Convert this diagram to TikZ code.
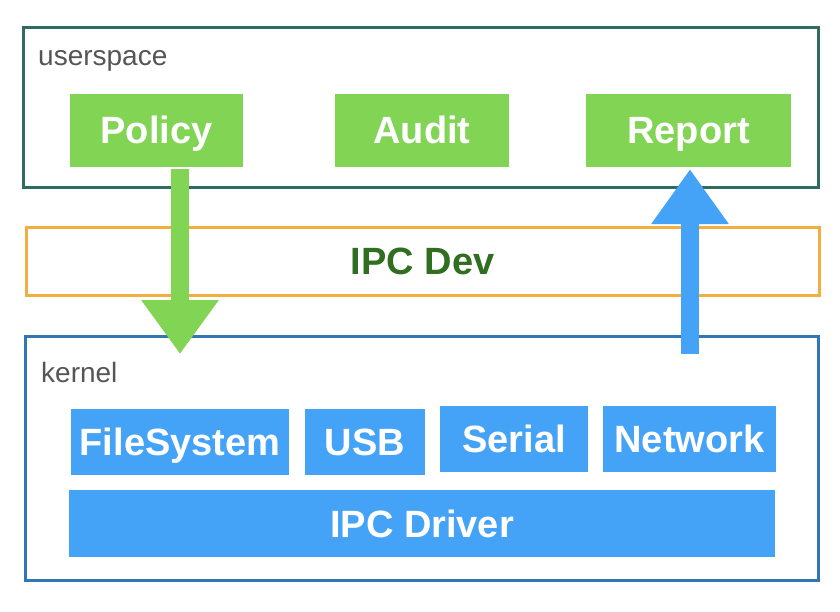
\documentclass[tikz,border=0pt]{standalone}
\usepackage{fontspec}
\setmainfont{Liberation Sans}
\usepackage{tikz}
\usetikzlibrary{arrows.meta, positioning}
\definecolor{userframe}{RGB}{48,107,96}
\definecolor{devframe}{RGB}{242,174,62}
\definecolor{kernframe}{RGB}{49,119,181}
\definecolor{userfill}{RGB}{130,212,85}
\definecolor{kernfill}{RGB}{69,163,247}
\definecolor{devtext}{RGB}{48,110,34}
\definecolor{labeltext}{RGB}{85,85,85}
\newcommand{\boxfont}{\fontsize{38}{40}\selectfont\bfseries}
\newcommand{\areafont}{\fontsize{28}{30}\selectfont}

\begin{document}
\begin{tikzpicture}[
  x=1pt, y=-1pt,
  frame/.style={rectangle, line width=3pt, inner sep=0pt},
  userbox/.style={rectangle, fill=userfill, text=white, font=\boxfont, inner sep=0pt, text height=27pt, text depth=0pt, minimum height=73pt},
  kernbox/.style={rectangle, fill=kernfill, text=white, font=\boxfont, inner sep=0pt, text height=27pt, text depth=0pt, minimum height=66pt},
  area/.style={anchor=base west, inner sep=0pt, text=labeltext, font=\areafont},
  bigarrow/.style={line width=18pt}
]
\useasboundingbox (0,0) rectangle (840,612);

% --- Rahmen ---
\node[frame, draw=userframe, minimum width=795pt, minimum height=160pt] (userspace) at (421,107.5) {};
\node[frame, draw=devframe, minimum width=793pt, minimum height=68pt, text=devtext, font=\boxfont, text height=27pt, text depth=0pt] (ipcdev) at (422.5,261.5) {IPC Dev};
\node[frame, draw=kernframe, minimum width=793pt, minimum height=244pt] (kernel) at (422,458.5) {};

\node[area] (userlabel) at (38,66) {userspace};
\node[area] (kernlabel) at (41,382) {kernel};

% --- userspace ---
\node[userbox, minimum width=173pt] (policy) at (156.5,130.5) {Policy};
\node[userbox, minimum width=174pt] (audit)  at (422,130.5)   {Audit};
\node[userbox, minimum width=205pt] (report) at (688.5,130.5) {Report};

% --- kernel ---
\node[kernbox, minimum width=218pt] (filesystem) at (180,442)   {FileSystem};
\node[kernbox, minimum width=120pt] (usb)        at (365,442)   {USB};
\node[kernbox, minimum width=148pt] (serial)     at (514,439)   {Serial};
\node[kernbox, minimum width=173pt] (network)    at (689.5,439) {Network};
\node[kernbox, minimum width=706pt, minimum height=67pt] (driver) at (422,523.5) {IPC Driver};

% Verbindungen
\coordinate (policyin) at (180,354);
\coordinate (reportout) at (690,354);
\draw[bigarrow, userfill, shorten <=2pt, -{Triangle[width=74pt, length=54pt]}] (policy.south -| policyin) -- (policyin);
\draw[bigarrow, kernfill, shorten >=2pt, -{Triangle[width=74pt, length=55pt]}] (reportout) -- (reportout |- report.south);
\end{tikzpicture}
\end{document}
